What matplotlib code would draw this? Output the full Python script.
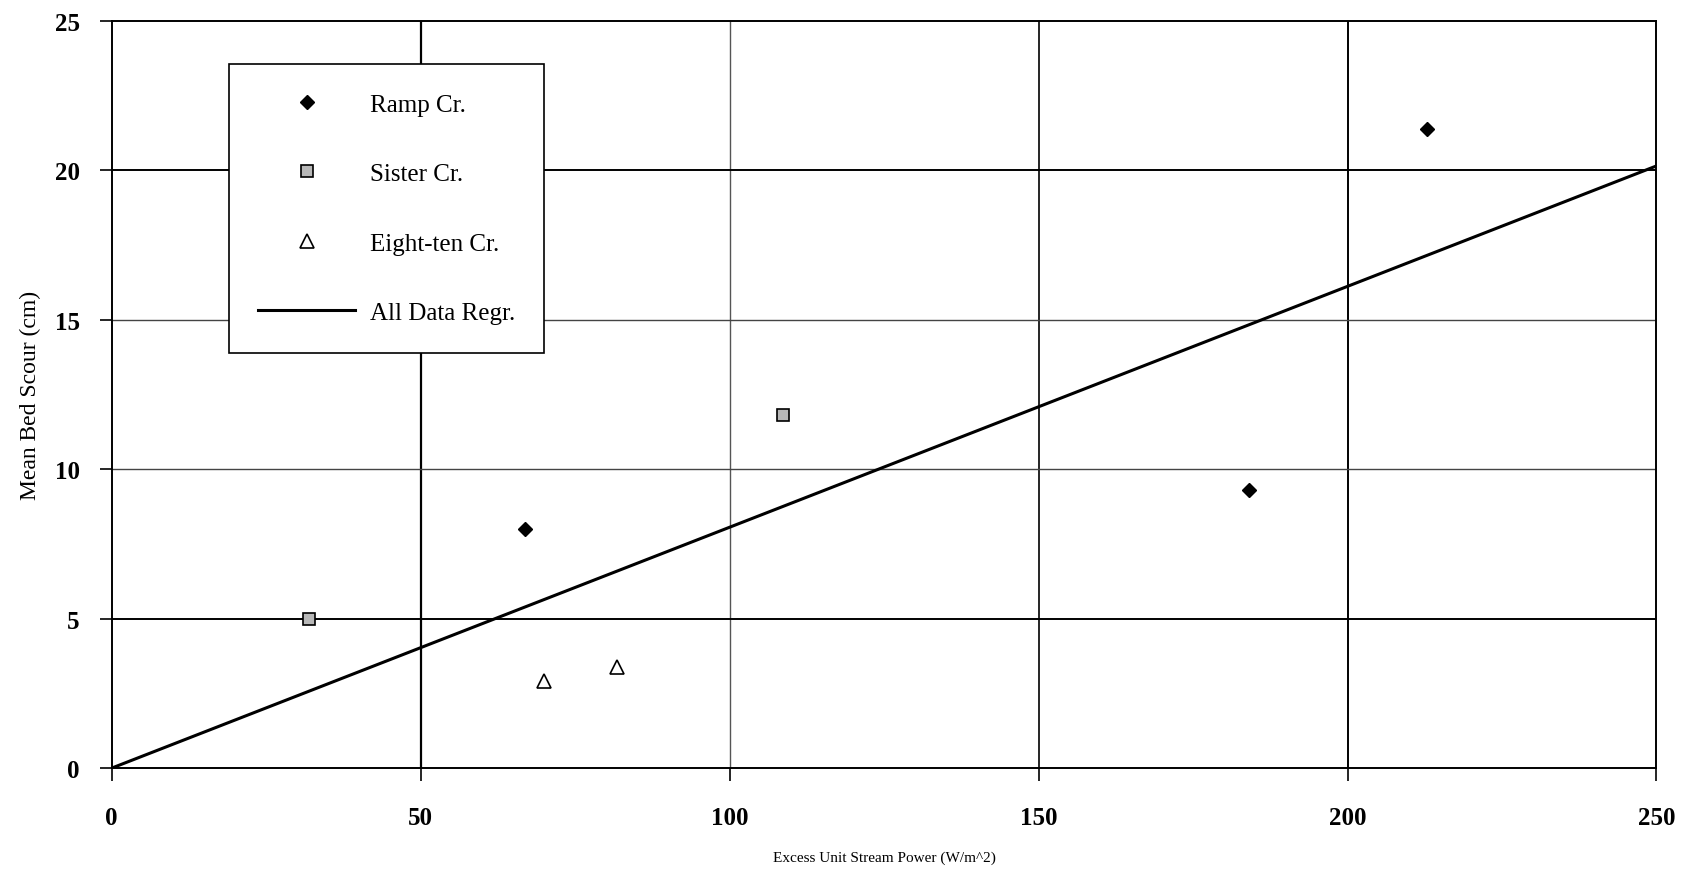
import numpy as np
import matplotlib.pyplot as plt

# data
ramp_x = [66.9, 184.0, 212.8]
ramp_y = [8.0, 9.3, 21.4]
sister_x = [32.0, 108.7]
sister_y = [5.0, 11.8]
eight_x = [69.9, 81.8]
eight_y = [2.9, 3.4]
regr_slope = 0.0806
regr_x = [0, 250]

xticks = [0, 50, 100, 150, 200, 250]
yticks = [0, 5, 10, 15, 20, 25]

plt.rcParams['font.family'] = ['Liberation Serif', 'DejaVu Serif']

fig = plt.figure(figsize=(16.92, 8.79), dpi=100)
ax = fig.add_axes([0.066, 0.125, 0.913, 0.850])

# grid lines, drawn by hand so their weights differ like the original
for xv, col, lw in [(50, 'black', 1.6), (100, '#555555', 1.0), (150, 'black', 1.2), (200, 'black', 1.4)]:
    ax.axvline(xv, color=col, lw=lw, zorder=1)
for yv, col, lw in [(5, 'black', 1.4), (10, '#444444', 1.0), (15, '#444444', 1.0), (20, 'black', 1.4)]:
    ax.axhline(yv, color=col, lw=lw, zorder=1)

regr_y = [regr_slope * v for v in regr_x]
ax.plot(ramp_x, ramp_y, 'D', color='black', markersize=7, linestyle='None', label='Ramp Cr.', zorder=3)
ax.plot(sister_x, sister_y, 's', markerfacecolor='#b8b8b8', markeredgecolor='black', markeredgewidth=1.2,
        markersize=8, linestyle='None', label='Sister Cr.', zorder=3)
ax.plot(eight_x, eight_y, '^', markerfacecolor='white', markeredgecolor='black', markeredgewidth=1.2,
        markersize=10, linestyle='None', label='Eight-ten Cr.', zorder=3)
ax.plot(regr_x, regr_y, '-', color='black', lw=2.2, label='All Data Regr.', zorder=2)

ax.set_xlim(0, 250)
ax.set_ylim(0, 25)
ax.set_xticks(xticks)
ax.set_yticks(yticks)
ax.tick_params(direction='out', length=9, width=1.2, labelsize=18)
ax.tick_params(axis='x', pad=18)
ax.tick_params(axis='y', pad=14)
for lab in ax.get_xticklabels() + ax.get_yticklabels():
    lab.set_fontweight('bold')
for sp in ax.spines.values():
    sp.set_linewidth(1.4)

ax.set_xlabel('Excess Unit Stream Power (W/m^2)', fontsize=11, labelpad=16)
ax.set_ylabel('Mean Bed Scour (cm)', fontsize=17, labelpad=10)

leg = ax.legend(loc='upper left', bbox_to_anchor=(0.076, 0.942), fontsize=18, frameon=True,
                fancybox=False, edgecolor='black', framealpha=1, borderpad=1.15, labelspacing=1.88,
                handlelength=3.9, handletextpad=0.6, borderaxespad=0)
leg.get_frame().set_linewidth(1.2)

plt.savefig('out.png', dpi=100)
